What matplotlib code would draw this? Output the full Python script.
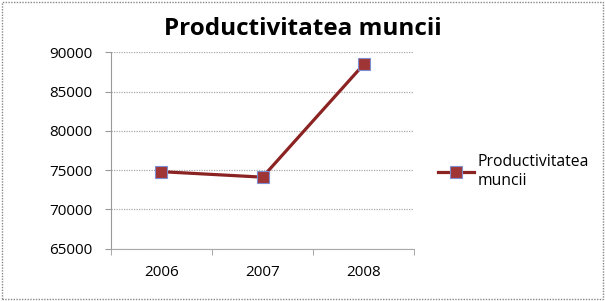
import numpy as np
import matplotlib.pyplot as plt
from matplotlib.patches import Rectangle

# Datos
years = ['2006', '2007', '2008']
values = [74800, 74100, 88500]
yticks = [65000, 70000, 75000, 80000, 85000, 90000]

plt.rcParams['font.family'] = ['Open Sans', 'DejaVu Sans']

fig = plt.figure(figsize=(6.05, 3.01), dpi=100)
ax = fig.add_axes([0.183, 0.1744, 0.502, 0.6512])

x = np.arange(len(years))
line, = ax.plot(x, values, color='#8b2323', lw=2.3, marker='s', markersize=9,
                markerfacecolor='#a03535', markeredgecolor='#7d8fd0', markeredgewidth=0.8,
                label='Productivitatea\nmuncii')

ax.set_xlim(-0.5, len(years) - 0.5)
ax.set_ylim(yticks[0], yticks[-1])
ax.set_yticks(yticks)
ax.set_xticks(x)
ax.set_xticklabels(years)
ax.set_xticks(np.arange(-0.5, len(years)), minor=True)
ax.tick_params(axis='x', which='major', length=0, pad=12, labelsize=11)
ax.tick_params(axis='x', which='minor', length=4, color='#999999', direction='out')
ax.tick_params(axis='y', length=4, color='#999999', labelsize=11, pad=9)

ax.grid(axis='y', color='#aaaaaa', linestyle=(0, (1, 1)), lw=0.9)
ax.set_axisbelow(True)
for s in ['top', 'right']:
    ax.spines[s].set_visible(False)
ax.spines['left'].set_color('#999999')
ax.spines['bottom'].set_color('#aaaaaa')
ax.spines['bottom'].set_linestyle((0, (1, 1)))

# Título centrado en la figura
fig.text(0.5, 0.905, 'Productivitatea muncii', ha='center', va='center',
         fontsize=17.5, fontweight='bold')

fig.legend(handles=[line], loc='center left', bbox_to_anchor=(0.724, 0.43),
           frameon=False, fontsize=11.3, handlelength=2.3, handletextpad=0.2,
           labelspacing=0.2, borderpad=0, borderaxespad=0)

# Marco exterior punteado
fig.patches.append(Rectangle((0.003, 0.005), 0.994, 0.99, transform=fig.transFigure,
                             fill=False, edgecolor='#888888', lw=1, linestyle=(0, (1, 1))))

fig.savefig('out.png', dpi=100)
